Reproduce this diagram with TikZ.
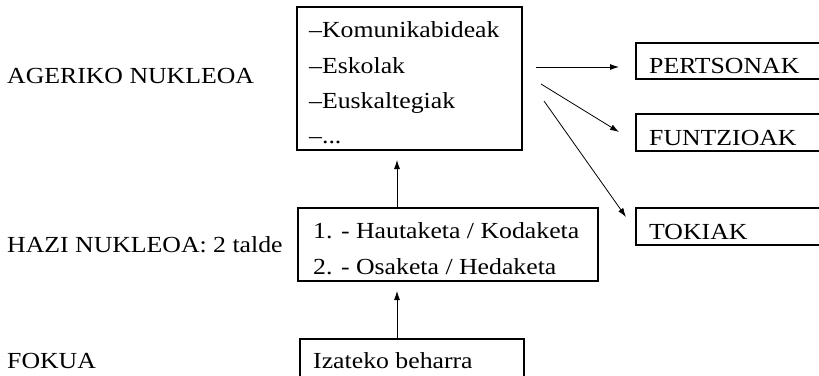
\documentclass[tikz,border=0pt]{standalone}
\usepackage{fontspec}
\setmainfont{Liberation Serif}[FakeStretch=1.12]
\usetikzlibrary{arrows.meta}
\begin{document}
\begin{tikzpicture}[x=1pt,y=-1pt,
  box/.style={draw,line width=1.1pt,inner sep=0pt,outer sep=0pt,anchor=north west},
  lbl/.style={anchor=base west,inner sep=0pt,font=\fontsize{23}{27}\selectfont},
  arr/.style={line width=0.8pt,-{Latex[length=9pt,width=6pt]}}]
\useasboundingbox (0,0) rectangle (819,375);
\clip (0,0) rectangle (819,375);
% boxes
\node[box,minimum width=225pt,minimum height=143pt] (top) at (297,7) {};
\node[box,minimum width=300pt,minimum height=73pt] (mid) at (298,208) {};
\node[box,minimum width=224pt,minimum height=60pt] (bot) at (300,339) {};
\node[box,minimum width=200pt,minimum height=36pt] (pers) at (636,43) {};
\node[box,minimum width=200pt,minimum height=37pt] (funt) at (636,114) {};
\node[box,minimum width=200pt,minimum height=37pt] (tok) at (636,208) {};
% left labels
\node[lbl] (ag) at (7,83) {AGERIKO NUKLEOA};
\node[lbl] (hz) at (7,252) {HAZI NUKLEOA: 2 talde};
\node[lbl] (fk) at (7,368) {FOKUA};
% box texts
\node[lbl] (t1) at (309,37) {–Komunikabideak};
\node[lbl] (t2) at (309,73) {–Eskolak};
\node[lbl] (t3) at (309,108) {–Euskaltegiak};
\node[lbl] (t4) at (309,143) {–...};
\node[lbl] (m1) at (313,238) {1. - Hautaketa / Kodaketa};
\node[lbl] (m2) at (313,274) {2. - Osaketa / Hedaketa};
\node[lbl] (b1) at (313,368) {Izateko beharra};
\node[lbl] (p1) at (649,73) {PERTSONAK};
\node[lbl] (f1) at (649,145) {FUNTZIOAK};
\node[lbl] (k1) at (649,239) {TOKIAK};
% connectors
\coordinate (ax) at (397,0);
\draw[arr,shorten >=10pt] (mid.north -| ax) -- (top.south -| ax);
\draw[arr,shorten >=10pt] (bot.north -| ax) -- (mid.south -| ax);
\coordinate (s1) at (536,67);
\coordinate (e1) at (619,67);
\coordinate (s2) at (541,84);
\coordinate (e2) at (619,132);
\coordinate (s3) at (544,101);
\coordinate (e3) at (626,217);
\draw[arr] (s1) -- (e1);
\draw[arr] (s2) -- (e2);
\draw[arr] (s3) -- (e3);
\end{tikzpicture}
\end{document}
